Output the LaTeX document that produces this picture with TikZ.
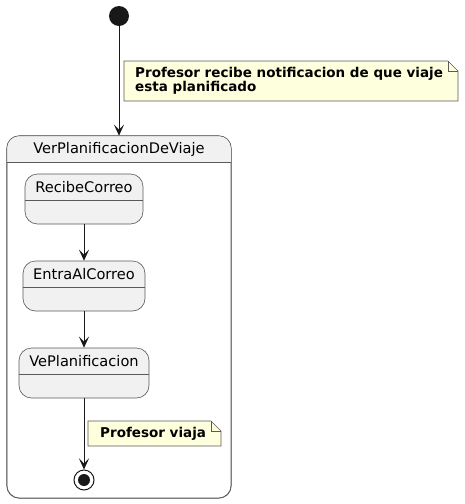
\documentclass[tikz,border=0pt]{standalone}
\usepackage{fontspec}
\setmainfont{DejaVu Sans}
\usetikzlibrary{arrows.meta}
\definecolor{stfill}{HTML}{F1F1F1}
\definecolor{stline}{HTML}{181818}
\definecolor{bdline}{HTML}{5A5A5A}
\definecolor{notefill}{HTML}{FEFFDD}
\begin{document}
\begin{tikzpicture}[x=1pt,y=-1pt,
  statebox/.style={draw=bdline, fill=stfill, rounded corners=12.5pt, line width=0.6pt, inner sep=0pt, minimum height=50pt},
  stitle/.style={inner sep=0pt, font=\fontsize{14.6}{16}\selectfont},
  ntext/.style={inner sep=0pt, align=left, font=\fontsize{13.5}{14}\selectfont\bfseries},
  sep/.style={draw=bdline, line width=0.6pt},
  conn/.style={draw=stline, line width=1pt, -{Stealth[length=11pt,width=10pt,inset=5pt]}},
  notebox/.style={draw=bdline, fill=notefill, line width=0.6pt}
]
\useasboundingbox (0,0) rectangle (464,504);
% initial state
\node[circle, fill=stline, minimum size=20pt, inner sep=0pt] (init) at (119,16) {};
% composite
\node[statebox, fill=white, minimum width=224pt, minimum height=362pt] (comp) at (119,317) {};
\begin{scope}
  \clip[rounded corners=12.5pt] (comp.north west) rectangle (comp.south east);
  \fill[stfill] (comp.north west) rectangle (231,162);
\end{scope}
\draw[bdline, line width=0.6pt, rounded corners=12.5pt] (comp.north west) rectangle (comp.south east);
\draw[sep] (comp.west |- 0,162) -- (comp.east |- 0,162);
\node[stitle] (comptitle) at (119,149) {VerPlanificacionDeViaje};
% inner states
\node[statebox, minimum width=118pt] (rc) at (84,199) {};
\draw[sep] (rc.west |- 0,200) -- (rc.east |- 0,200);
\node[stitle] (rct) at (84,187) {RecibeCorreo};
\node[statebox, minimum width=122pt] (ec) at (84,286) {};
\draw[sep] (ec.west |- 0,287) -- (ec.east |- 0,287);
\node[stitle] (ect) at (84,274) {EntraAlCorreo};
\node[statebox, minimum width=130pt] (vp) at (84,373) {};
\draw[sep] (vp.west |- 0,374) -- (vp.east |- 0,374);
\node[stitle] (vpt) at (84,361) {VePlanificacion};
% final state
\node[circle, draw=stline, line width=1pt, fill=white, minimum size=20pt, inner sep=0pt] (final) at (84,480) {};
\node[circle, fill=stline, minimum size=12pt, inner sep=0pt] (finalin) at (84,480) {};
% connectors
\draw[conn] (init) -- (comp.north);
\draw[conn] (rc.south) -- (ec.north);
\draw[conn] (ec.south) -- (vp.north);
\draw[conn] (vp.south) -- (final);
% note 1
\draw[notebox] (124,61) -- (448,61) -- (458,71) -- (458,101) -- (124,101) -- cycle;
\draw[notebox, fill=none] (448,61) -- (448,71) -- (458,71);
\node[ntext, anchor=west] (note1) at (135,81) {Profesor recibe notificacion de que viaje\\esta planificado};
% note 2
\draw[notebox] (88,421) -- (211,421) -- (221,431) -- (221,446) -- (88,446) -- cycle;
\draw[notebox, fill=none] (211,421) -- (211,431) -- (221,431);
\node[ntext, anchor=west] (note2) at (100,434) {Profesor viaja};
\end{tikzpicture}
\end{document}
